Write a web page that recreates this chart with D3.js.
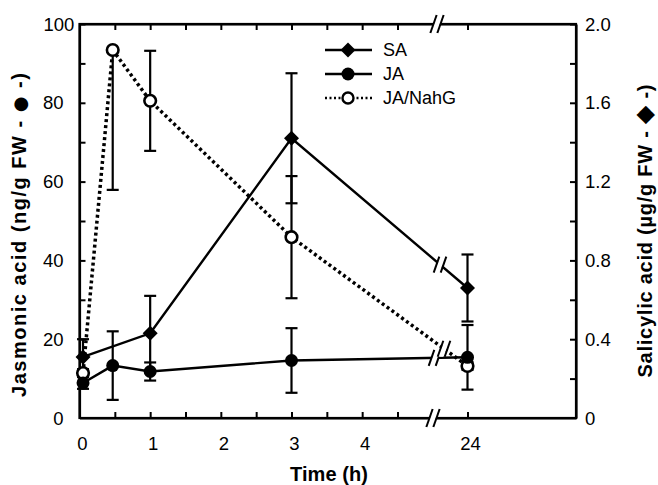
<!DOCTYPE html>
<html>
<head>
<meta charset="utf-8">
<script src="https://cdn.jsdelivr.net/npm/d3@7"></script>
<style>
  body { margin: 0; background: #fff; }
  text { font-family: Arial, "Liberation Sans", Helvetica, sans-serif; fill: #000; }
  .lab { font-weight: bold; font-size: 20px; }
  .sym { font-family: "DejaVu Sans", sans-serif; font-size: 18px; }
</style>
</head>
<body>
<div id="chart"></div>
<script>
// data (JA in ng/g FW, SA in ug/g FW, time in h)
var saTimes = [0.05, 1, 3, 24];
var saValues = [0.31, 0.43, 1.42, 0.66];
var saErr = [0.09, 0.19, 0.33, 0.17];

var jaTimes = [0.05, 0.47, 1, 3, 24];
var jaValues = [8.9, 13.3, 11.8, 14.6, 15.4];
var jaErr = [1.5, 8.7, 2.3, 8.2, 8.2];

var nahgTimes = [0.05, 0.47, 1, 3, 24];
var nahgValues = [11.4, 93.4, 80.5, 45.9, 13.2];
var nahgErr = [1, 35.5, 12.7, 15.5, 1];

var xTicks = [0, 1, 2, 3, 4, 24];
var xMinorTicks = [0, 0.5, 1, 1.5, 2, 2.5, 3, 3.5, 4, 4.5, 24];
var leftTicks = [0, 20, 40, 60, 80, 100];
var rightTicks = [0, 0.4, 0.8, 1.2, 1.6, 2.0];
var legendNames = ["SA", "JA", "JA/NahG"];

var W = 658, H = 485;
var pL = 79.5, pR = 576, pT = 24, pB = 418;

var svg = d3.select("#chart").append("svg")
    .attr("width", W)
    .attr("height", H);

// broken time axis: 0-4.5 h then a jump to 24 h
var x = d3.scaleLinear()
    .domain([0, 4.5, 24, 25.54])
    .range([pL, 397.5, 467.5, pR]);
var breakX = 436;

var yL = d3.scaleLinear().domain([0, 100]).range([pB, pT]);
var yR = d3.scaleLinear().domain([0, 2]).range([pB, pT]);

// axes, ticks pointing inward
var axB = svg.append("g").attr("transform", "translate(0," + pB + ")")
    .call(d3.axisBottom(x).tickValues(xMinorTicks).tickSizeInner(-6).tickSizeOuter(0).tickFormat(""));
var axT = svg.append("g").attr("transform", "translate(0," + pT + ")")
    .call(d3.axisTop(x).tickValues(xMinorTicks).tickSizeInner(-6).tickSizeOuter(0).tickFormat(""));
var axL = svg.append("g").attr("transform", "translate(" + pL + ",0)")
    .call(d3.axisLeft(yL).ticks(10).tickSizeInner(-6).tickSizeOuter(0).tickFormat(""));
var axR = svg.append("g").attr("transform", "translate(" + pR + ",0)")
    .call(d3.axisRight(yR).ticks(10).tickSizeInner(-6).tickSizeOuter(0).tickFormat(""));

[axB, axT, axL, axR].forEach(function(a) {
  a.select(".domain").attr("stroke", "#000").attr("stroke-width", 2.2);
  a.selectAll(".tick line").attr("stroke", "#000").attr("stroke-width", 2);
  a.selectAll(".tick").filter(function(d) { return d === 0; }).remove();
});
svg.append("rect")
    .attr("x", pL).attr("y", pT)
    .attr("width", pR - pL).attr("height", pB - pT)
    .attr("fill", "none").attr("stroke", "#000").attr("stroke-width", 2.2);

// tick labels
svg.append("g").selectAll("text")
  .data(xTicks).enter().append("text")
    .attr("x", function(d) { return x(d) + 3; })
    .attr("y", pB + 32)
    .attr("text-anchor", "middle")
    .attr("font-size", "18.5px")
    .text(function(d) { return d; });

svg.append("g").selectAll("text")
  .data(leftTicks).enter().append("text")
    .attr("x", function(d) { return d === 100 ? pL - 36 : pL - 16; })
    .attr("y", function(d) { return yL(d); })
    .attr("dy", "0.36em")
    .attr("text-anchor", function(d) { return d === 100 ? "start" : "end"; })
    .attr("font-size", "18.5px")
    .text(function(d) { return d; });

svg.append("g").selectAll("text")
  .data(rightTicks).enter().append("text")
    .attr("x", pR + 9)
    .attr("y", function(d) { return yR(d); })
    .attr("dy", "0.36em")
    .attr("font-size", "18.5px")
    .text(function(d) { return d === 0 ? "0" : d3.format(".1f")(d); });

// axis titles
function axisTitle(tr, len, head, sym, symSize) {
  var t = svg.append("text").attr("class", "lab")
      .attr("transform", tr)
      .attr("text-anchor", "middle")
      .attr("textLength", len).attr("lengthAdjust", "spacing");
  t.append("tspan").text(head);
  t.append("tspan").attr("class", "sym").style("font-size", symSize).text(sym);
  t.append("tspan").text(" -)");
}
axisTitle("translate(26,235) rotate(-90)", 324, "Jasmonic acid (ng/g FW  - ", "\u25CF", "18px");
axisTitle("translate(652,231) rotate(-90)", 293, "Salicylic acid (\u00B5g/g FW  - ", "\u25C6", "24px");
svg.append("text").attr("class", "lab")
    .attr("x", 329).attr("y", 481)
    .attr("text-anchor", "middle")
    .attr("font-size", "19px")
    .attr("textLength", 78).attr("lengthAdjust", "spacing")
    .text("Time (h)");

// series
function toPts(times, vals, errs, y) {
  var top = y.domain()[1];
  return times.map(function(t, i) {
    var up = vals[i] + errs[i];
    // whiskers running past the axis top are left out, as in the figure
    return {x: x(t), y: y(vals[i]), lo: y(vals[i] - errs[i]), hi: up > top ? null : y(up)};
  });
}
var sa = toPts(saTimes, saValues, saErr, yR);
var ja = toPts(jaTimes, jaValues, jaErr, yL);
var nahg = toPts(nahgTimes, nahgValues, nahgErr, yL);

var line = d3.line().x(function(d) { return d.x; }).y(function(d) { return d.y; });

svg.append("path").datum(nahg).attr("d", line)
    .attr("fill", "none").attr("stroke", "#000")
    .attr("stroke-width", 3.5).attr("stroke-dasharray", "3,3");
svg.append("path").datum(sa).attr("d", line)
    .attr("fill", "none").attr("stroke", "#000").attr("stroke-width", 2.4);
svg.append("path").datum(ja).attr("d", line)
    .attr("fill", "none").attr("stroke", "#000").attr("stroke-width", 2.4);

// error bars
[sa, ja, nahg].forEach(function(s) {
  var g = svg.append("g").selectAll("g").data(s).enter().append("g");
  g.append("line")
      .attr("x1", function(d) { return d.x; }).attr("x2", function(d) { return d.x; })
      .attr("y1", function(d) { return d.lo; }).attr("y2", function(d) { return d.hi === null ? d.y : d.hi; })
      .attr("stroke", "#000").attr("stroke-width", 2.2);
  ["lo", "hi"].forEach(function(k) {
    g.filter(function(d) { return d[k] !== null; }).append("line")
        .attr("x1", function(d) { return d.x - 6; }).attr("x2", function(d) { return d.x + 6; })
        .attr("y1", function(d) { return d[k]; }).attr("y2", function(d) { return d[k]; })
        .attr("stroke", "#000").attr("stroke-width", 2.2);
  });
});

// "//" break marks on the axes and on each line
function breakMark(cx, cy, h) {
  var g = svg.append("g");
  g.append("polygon")
      .attr("points", [[cx - 4 - h * 0.35, cy + h], [cx + 2 - h * 0.35, cy + h], [cx + 4 + h * 0.35, cy - h], [cx - 2 + h * 0.35, cy - h]].join(" "))
      .attr("fill", "#fff");
  [-3.5, 3.5].forEach(function(o) {
    g.append("line")
        .attr("x1", cx + o - h * 0.35).attr("y1", cy + h)
        .attr("x2", cx + o + h * 0.35).attr("y2", cy - h)
        .attr("stroke", "#000").attr("stroke-width", 2);
  });
}
function yAt(s, px) {
  var a = s[s.length - 2], b = s[s.length - 1];
  return a.y + (b.y - a.y) * (px - a.x) / (b.x - a.x);
}
breakMark(breakX - 3, pB, 9);
breakMark(breakX + 1, pT, 9);
breakMark(breakX + 4, yAt(sa, breakX + 4), 8);
breakMark(breakX - 1, yAt(ja, breakX - 1), 8);
breakMark(breakX + 8, yAt(nahg, breakX + 8), 8);

// markers
var diamond = function(d) { var r = 7.5; return "M" + d.x + "," + (d.y - r) + "L" + (d.x + r) + "," + d.y + "L" + d.x + "," + (d.y + r) + "L" + (d.x - r) + "," + d.y + "Z"; };
svg.append("g").selectAll("circle").data(nahg).enter().append("circle")
    .attr("cx", function(d) { return d.x; }).attr("cy", function(d) { return d.y; })
    .attr("r", 5.8).attr("fill", "#fff").attr("stroke", "#000").attr("stroke-width", 2.6);
svg.append("g").selectAll("path").data(sa).enter().append("path")
    .attr("d", diamond).attr("fill", "#000");
svg.append("g").selectAll("circle").data(ja).enter().append("circle")
    .attr("cx", function(d) { return d.x; }).attr("cy", function(d) { return d.y; })
    .attr("r", 6.5).attr("fill", "#000");

// legend
var lg = svg.append("g").selectAll("g").data(legendNames).enter().append("g")
    .attr("transform", function(d, i) { return "translate(325," + (50 + i * 24) + ")"; });
lg.append("line")
    .attr("x1", 0).attr("x2", 47).attr("y1", 0).attr("y2", 0)
    .attr("stroke", "#000")
    .attr("stroke-width", function(d, i) { return i === 2 ? 2.5 : 2.4; })
    .attr("stroke-dasharray", function(d, i) { return i === 2 ? "2,2.5" : null; });
lg.each(function(d, i) {
  var g = d3.select(this);
  if (i === 0) g.append("path").attr("d", diamond({x: 23, y: 0})).attr("fill", "#000");
  if (i === 1) g.append("circle").attr("cx", 23).attr("r", 6.5).attr("fill", "#000");
  if (i === 2) g.append("circle").attr("cx", 23).attr("r", 5.5).attr("fill", "#fff").attr("stroke", "#000").attr("stroke-width", 2.4);
});
lg.append("text")
    .attr("x", 58).attr("dy", "0.36em")
    .attr("font-size", "18px")
    .text(function(d) { return d; });
</script>
</body>
</html>
